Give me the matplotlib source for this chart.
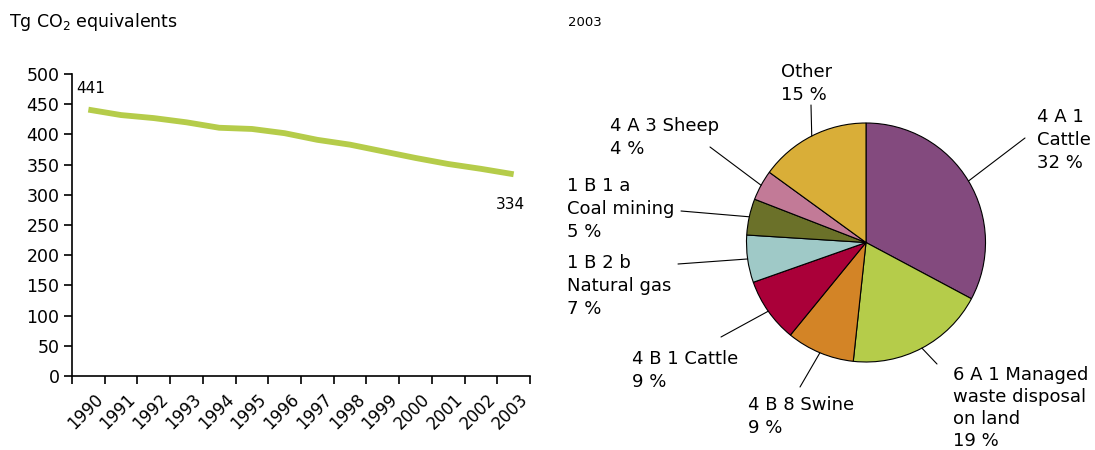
import numpy as np
import matplotlib
matplotlib.use("Agg")
import matplotlib.pyplot as plt
from matplotlib.transforms import ScaledTranslation

plt.rcParams['font.family'] = ['DejaVu Sans']

years = ["1990", "1991", "1992", "1993", "1994", "1995", "1996",
         "1997", "1998", "1999", "2000", "2001", "2002", "2003"]
emissions = [441, 432, 427, 420, 411, 409, 402, 391, 383, 372, 361, 351, 343, 334]

pie_labels = ["4 A 1\nCattle\n32 %",
              "6 A 1 Managed\nwaste disposal\non land\n19 %",
              "4 B 8 Swine\n9 %",
              "4 B 1 Cattle\n9 %",
              "1 B 2 b\nNatural gas\n7 %",
              "1 B 1 a\nCoal mining\n5 %",
              "4 A 3 Sheep\n4 %",
              "Other\n15 %"]
pie_values = [32.8, 18.9, 9.2, 8.7, 6.4, 4.9, 4.1, 15.0]
pie_colors = ["#834A7E", "#B5CC4A", "#D38426", "#AA0039",
              "#9FC9C7", "#6B7129", "#C27A97", "#D9AE38"]

W, H = 1095, 450
fig = plt.figure(figsize=(W / 100, H / 100), dpi=100)

# ---- line chart ----
ax = fig.add_axes([72 / W, (H - 376) / H, (530 - 72) / W, (376 - 74) / H])
x = np.arange(len(years))
ax.plot(x, emissions, color="#B5CC4A", lw=4.2, solid_capstyle='butt')
ax.set_xlim(-0.5, len(years) - 0.5)
ax.set_ylim(0, 500)
ax.set_yticks(range(0, 501, 50))
ax.set_xticks(np.arange(-0.5, len(years), 1.0))
ax.set_xticklabels([])
ax.set_xticks(x, minor=True)
ax.set_xticklabels(years, minor=True, rotation=45, ha='right',
                   rotation_mode='anchor', va='center', fontsize=12)
ax.tick_params(axis='x', which='minor', length=0, pad=15)
ax.tick_params(axis='both', which='major', direction='out', length=5.5,
               width=1.2, labelsize=12.5, color='black')
ax.tick_params(axis='y', pad=3.5)
off = ScaledTranslation(8.5 / 72, 0, fig.dpi_scale_trans)
for lab in ax.get_xticklabels(minor=True):
    lab.set_transform(lab.get_transform() + off)
for s in ['top', 'right']:
    ax.spines[s].set_visible(False)
for s in ['left', 'bottom']:
    ax.spines[s].set_linewidth(1.2)
ax.annotate(str(emissions[0]), (x[0], emissions[0]), xytext=(-9, 10),
            textcoords='offset points', fontsize=11, ha='left', va='bottom')
ax.annotate(str(emissions[-1]), (x[-1], emissions[-1]), xytext=(-2, -22),
            textcoords='offset points', fontsize=11, ha='center', va='center')

fig.text(9 / W, 1 - 22 / H, r"Tg CO$_2$ equivalents", fontsize=12.5, va='center', ha='left')
fig.text(568 / W, 1 - 22 / H, "2003", fontsize=9.5, va='center', ha='left')

# ---- pie ----
cx, cy, r = 866, 242.5, 119.5
pax = fig.add_axes([(cx - r) / W, (H - cy - r) / H, 2 * r / W, 2 * r / H])
wedges, _ = pax.pie(pie_values, colors=pie_colors, startangle=90, counterclock=False,
                    wedgeprops=dict(edgecolor='black', linewidth=0.8), radius=1.0)
pax.set_xlim(-1, 1)
pax.set_ylim(-1, 1)
pax.set_aspect('equal')
pax.axis('off')

# label text anchor (top-left, figure pixels from top) and leader end point
text_pos = [(1037, 108), (953, 366), (748, 396), (632, 350),
            (567, 254), (567, 177), (610, 117), (781, 63)]
line_end = [(1025, 138), (937, 364), (800, 387), (721, 337),
            (678, 264), (681, 211), (710, 147), (811, 105)]
spacing = [1.36, 1.28, 1.36, 1.36, 1.36, 1.36, 1.36, 1.36]
for w, lab, tp, le, ls in zip(wedges, pie_labels, text_pos, line_end, spacing):
    ang = np.deg2rad((w.theta1 + w.theta2) / 2)
    px, py = np.cos(ang), np.sin(ang)
    pax.annotate("", xy=(px, py), xycoords='data',
                 xytext=(le[0], H - le[1]), textcoords='figure pixels',
                 arrowprops=dict(arrowstyle='-', color='black', lw=0.8,
                                 shrinkA=0, shrinkB=0),
                 annotation_clip=False)
    fig.text(tp[0] / W, 1 - tp[1] / H, lab, fontsize=13, ha='left', va='top',
             linespacing=ls)

fig.savefig("out.png", dpi=100, facecolor='white')
